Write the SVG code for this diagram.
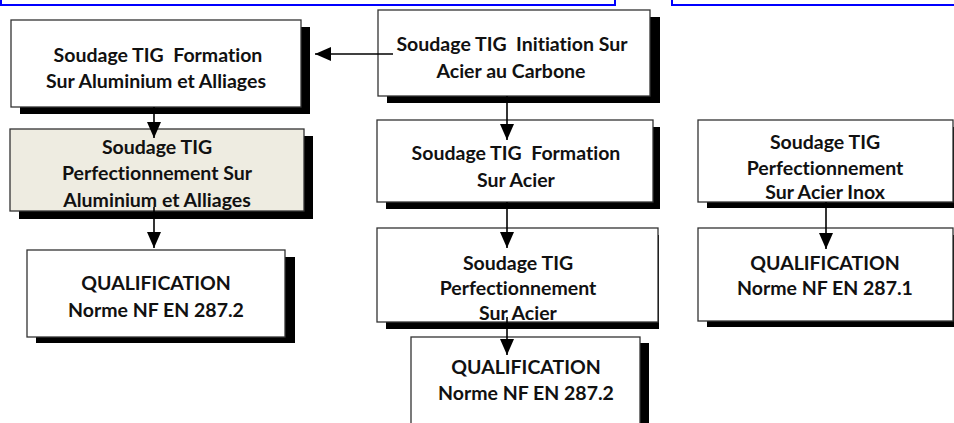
<svg xmlns="http://www.w3.org/2000/svg" width="954" height="423" viewBox="0 0 954 423">
<style>
  .box { fill: #ffffff; stroke: #333333; stroke-width: 1.3; }
  .alt { fill: #eeece1; }
  .sh { fill: #000000; }
  .t { font-family: Lato, "Liberation Sans", sans-serif; font-weight: bold; font-size: 19.5px; fill: #111111; text-anchor: middle; white-space: pre; font-variant-ligatures: none; font-feature-settings: "liga" 0; }
  .ln { stroke: #000000; stroke-width: 1.6; fill: none; marker-end: url(#ah); }
  .blue { fill: none; stroke: #0000ff; stroke-width: 2; }
</style>
<defs>
  <marker id="ah" markerWidth="16" markerHeight="14" refX="16" refY="7" orient="auto" markerUnits="userSpaceOnUse">
    <path d="M0,0 L16,7 L0,14 Z" fill="#000000"/>
  </marker>
</defs>
<rect width="954" height="423" fill="#ffffff"/>
<g id="top-frames">
  <rect class="blue" x="1" y="-10" width="614" height="15"/>
  <rect class="blue" x="672" y="-10" width="300" height="15"/>
</g>
<g id="node-alu-formation">
  <rect class="sh" x="20" y="27" width="290" height="87"/>
  <rect class="box" x="11" y="20" width="290" height="87"/>
  <text class="t" x="158" y="62" xml:space="preserve">Soudage TIG  Formation</text>
  <text class="t" x="156" y="88">Sur Aluminium et Alliages</text>
</g>
<g id="node-initiation">
  <rect class="sh" x="387" y="17" width="273" height="86"/>
  <rect class="box" x="378" y="10" width="272" height="86"/>
  <text class="t" x="512" y="51" xml:space="preserve">Soudage TIG  Initiation Sur</text>
  <text class="t" x="511" y="78">Acier au Carbone</text>
</g>
<g id="node-alu-perf">
  <rect class="sh" x="19" y="136" width="294" height="83"/>
  <rect class="box alt" x="10" y="129" width="294" height="82"/>
  <text class="t" x="157" y="154">Soudage TIG</text>
  <text class="t" x="157" y="180">Perfectionnement Sur</text>
  <text class="t" x="157" y="207">Aluminium et Alliages</text>
</g>
<g id="node-qual-alu">
  <rect class="sh" x="36" y="257" width="259" height="86"/>
  <rect class="box" x="27" y="250" width="258" height="87"/>
  <text class="t" x="156" y="290">QUALIFICATION</text>
  <text class="t" x="156" y="317">Norme NF EN 287.2</text>
</g>
<g id="node-acier-formation">
  <rect class="sh" x="386" y="127" width="274" height="82"/>
  <rect class="box" x="377" y="120" width="276" height="82"/>
  <text class="t" x="516" y="160" xml:space="preserve">Soudage TIG  Formation</text>
  <text class="t" x="516" y="187">Sur Acier</text>
</g>
<g id="node-acier-perf">
  <rect class="sh" x="386" y="235" width="273" height="94"/>
  <rect class="box" x="377" y="228" width="281" height="94"/>
  <text class="t" x="518" y="270">Soudage TIG</text>
  <text class="t" x="518" y="295">Perfectionnement</text>
  <text class="t" x="518" y="320">Sur Acier</text>
</g>
<g id="node-qual-acier">
  <rect class="sh" x="420" y="343" width="229" height="90"/>
  <rect class="box" x="411" y="337" width="229" height="95"/>
  <text class="t" x="526" y="374">QUALIFICATION</text>
  <text class="t" x="526" y="400">Norme NF EN 287.2</text>
</g>
<g id="node-inox-perf">
  <rect class="sh" x="707" y="127" width="260" height="81"/>
  <rect class="box" x="698" y="120" width="255" height="82"/>
  <text class="t" x="825" y="149">Soudage TIG</text>
  <text class="t" x="825" y="175">Perfectionnement</text>
  <text class="t" x="825" y="199">Sur Acier Inox</text>
</g>
<g id="node-qual-inox">
  <rect class="sh" x="707" y="235" width="260" height="92"/>
  <rect class="box" x="698" y="228" width="255" height="93"/>
  <text class="t" x="825" y="270">QUALIFICATION</text>
  <text class="t" x="825" y="295">Norme NF EN 287.1</text>
</g>
<g id="connectors">
  <line class="ln" x1="393" y1="54" x2="315" y2="54"/>
  <line class="ln" x1="154" y1="107" x2="154" y2="138"/>
  <line class="ln" x1="154" y1="207" x2="154" y2="248"/>
  <line class="ln" x1="507" y1="96" x2="507" y2="140"/>
  <line class="ln" x1="507" y1="202" x2="507" y2="248"/>
  <line class="ln" x1="507" y1="317" x2="507" y2="355"/>
  <line class="ln" x1="826" y1="202" x2="826" y2="249"/>
</g>
</svg>
